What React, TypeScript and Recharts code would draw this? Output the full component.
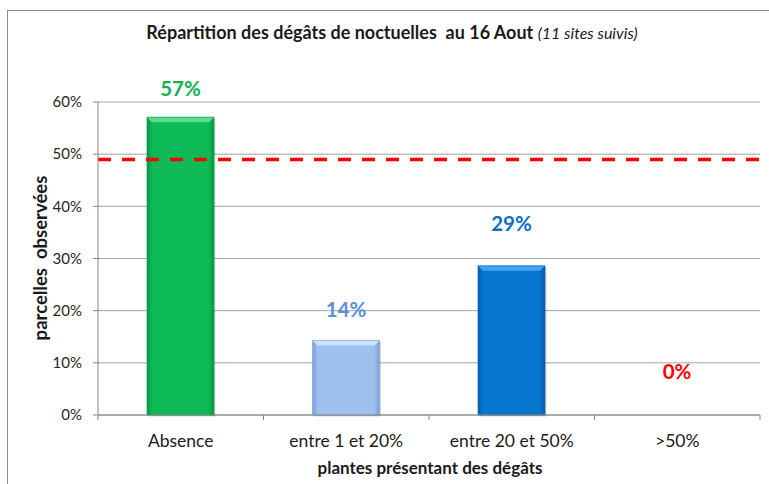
import React from 'react';
import { BarChart, Bar, XAxis, YAxis, CartesianGrid, ReferenceLine, LabelList } from 'recharts';

const categories = ['Absence', 'entre 1 et 20%', 'entre 20 et 50%', '>50%'];
const shares = [57.1, 14.3, 28.6, 0];
const threshold = 49;
const yTicks = [0, 10, 20, 30, 40, 50, 60];

const data = categories.map((name, i) => ({ name, value: shares[i] }));

// bar look (Excel-like bevel)
const barColors = [
  { base: '#0DBA56', light: '#5ADB8F', dark: '#08983F' },
  { base: '#9DC0EF', light: '#CBE2FB', dark: '#7A9FD2' },
  { base: '#0577CF', light: '#46A2EA', dark: '#045EA8' },
  { base: '#C00000', light: '#E04040', dark: '#900000' },
];
const labelColors = ['#13AF4F', '#5A8ED6', '#0B70C1', '#FF0000'];
const labelLift = [29, 31, 43, 44];

const W = 769;
const H = 484;
const PLOT_LEFT = 98;
const PLOT_RIGHT = 760;
const band = (PLOT_RIGHT - PLOT_LEFT) / categories.length;
const FONT = 'Lato, "Open Sans", sans-serif';

const BevelBar = (props: any) => {
  const { x, y, width, height, index } = props;
  if (!height || height <= 0) return null;
  const c = barColors[index];
  const b = 5;
  const id = `bevel-${index}`;
  return (
    <g>
      <defs>
        <linearGradient id={id} x1="0" y1="0" x2="1" y2="0">
          <stop offset="0%" stopColor={c.dark} />
          <stop offset="8%" stopColor={c.base} />
          <stop offset="92%" stopColor={c.base} />
          <stop offset="100%" stopColor={c.dark} />
        </linearGradient>
      </defs>
      <rect x={x + 1.5} y={y + 1.5} width={width} height={height} fill="rgba(0,0,0,0.15)" />
      <rect x={x} y={y} width={width} height={height} fill={`url(#${id})`} />
      <polygon
        points={`${x},${y} ${x + width},${y} ${x + width - b},${y + b} ${x + b},${y + b}`}
        fill={c.light}
      />
      <rect x={x} y={y} width={width} height={height} fill="none" stroke={c.dark} strokeOpacity={0.6} strokeWidth={1} />
    </g>
  );
};

const ValueLabel = (props: any) => {
  const { x, y, width, value, index } = props;
  return (
    <text
      x={x + width / 2}
      y={y - labelLift[index]}
      textAnchor="middle"
      dominantBaseline="central"
      fill={labelColors[index]}
      fontFamily={FONT}
      fontWeight={700}
      fontSize={20.5}
    >
      {`${Math.round(value)}%`}
    </text>
  );
};

const CategoryTick = (props: any) => {
  const { x, y, payload, index } = props;
  return (
    <g>
      {index === 0 && <line x1={x - band / 2} y1={y} x2={x - band / 2} y2={y + 5} stroke="#868686" />}
      <line x1={x + band / 2} y1={y} x2={x + band / 2} y2={y + 5} stroke="#868686" />
      <text x={x} y={y + 25} textAnchor="middle" dominantBaseline="central" fill="#1a1a1a" fontFamily={FONT} fontSize={17.5}>
        {payload.value}
      </text>
    </g>
  );
};

export default function App() {
  return (
    <div style={{ position: 'absolute', left: 0, top: 0, width: W, height: H, overflow: 'hidden', background: '#fff', fontFamily: FONT }}>
      <div style={{ position: 'absolute', left: 7, top: 10, width: 820, height: 540, border: '1.5px solid #8c8c8c' }} />
      <div style={{ position: 'absolute', left: 0, top: 0 }}>
        <BarChart width={W} height={H} data={data} margin={{ top: 102, right: W - PLOT_RIGHT, bottom: 0, left: 0 }} barSize={67}>
          <CartesianGrid vertical={false} stroke="#a3a3a3" />
          <XAxis
            dataKey="name"
            height={69}
            tickLine={false}
            tickSize={0}
            tickMargin={0}
            axisLine={{ stroke: '#868686' }}
            tick={<CategoryTick />}
            interval={0}
          />
          <YAxis
            width={PLOT_LEFT}
            domain={[0, 60]}
            ticks={yTicks}
            tickFormatter={(v: number) => `${v}%`}
            tickSize={5}
            tickMargin={11}
            axisLine={{ stroke: '#868686' }}
            tickLine={{ stroke: '#868686' }}
            tick={{ fill: '#262626', fontSize: 15, fontFamily: FONT }}
          />
          <Bar dataKey="value" shape={<BevelBar />} isAnimationActive={false}>
            <LabelList dataKey="value" content={<ValueLabel />} />
          </Bar>
          <ReferenceLine y={threshold} stroke="#FF0000" strokeWidth={3.5} strokeDasharray="13 11" />
        </BarChart>
      </div>
      <div style={{ position: 'absolute', left: 392, top: 21, transform: 'translateX(-50%)', whiteSpace: 'nowrap', color: '#1a1a1a' }}>
        <span style={{ fontWeight: 700, fontSize: 18 }}>Répartition des dégâts de noctuelles&nbsp; au 16 Aout </span>
        <span style={{ fontStyle: 'italic', fontSize: 16 }}>(11 sites suivis)</span>
      </div>
      <div
        style={{
          position: 'absolute', left: 40, top: 258, transform: 'translate(-50%, -50%) rotate(-90deg)',
          whiteSpace: 'nowrap', fontWeight: 700, fontSize: 18.5, color: '#1a1a1a',
        }}
      >
        parcelles&nbsp; observées
      </div>
      <div
        style={{
          position: 'absolute', left: 430, top: 467, transform: 'translate(-50%, -50%)',
          whiteSpace: 'nowrap', fontWeight: 700, fontSize: 17, color: '#1a1a1a',
        }}
      >
        plantes présentant des dégâts
      </div>
    </div>
  );
}
